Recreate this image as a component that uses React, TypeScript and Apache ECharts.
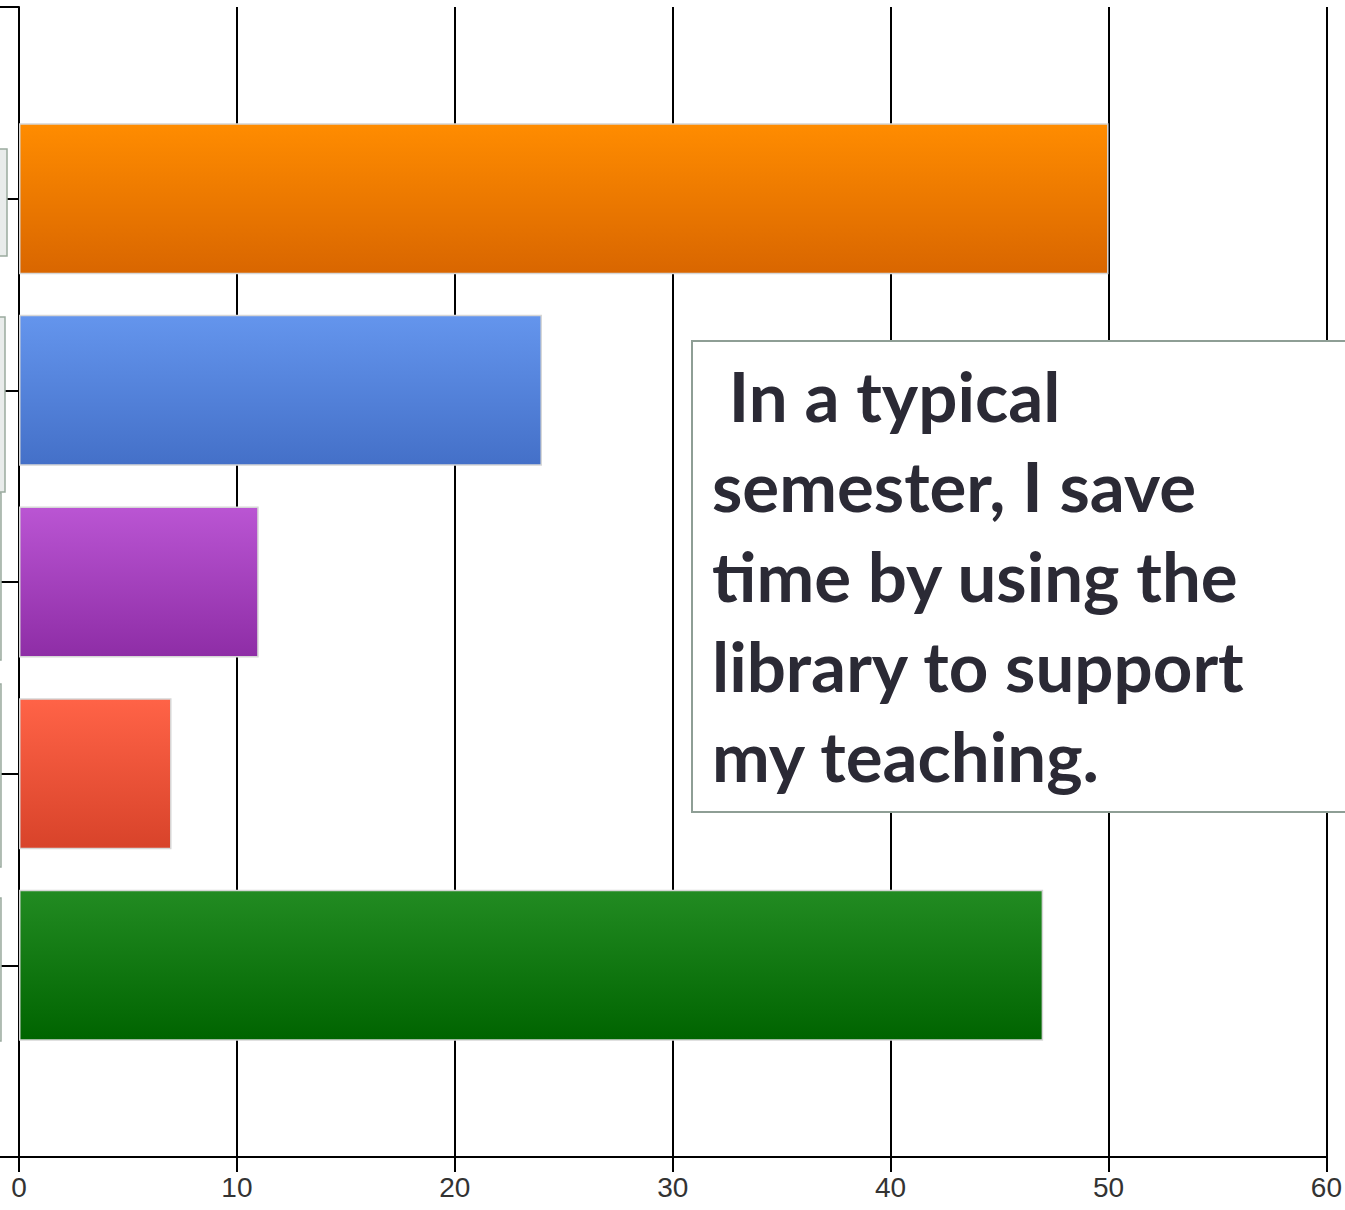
import React, { useEffect, useRef } from "react";
import * as echarts from "echarts";

// Category slots (first and last are empty padding slots on the axis)
const categories: string[] = ["", "Response A", "Response B", "Response C", "Response D", "Response E", ""];
const values: (number | null)[] = [null, 50, 24, 11, 7, 47, null];
const topColors: string[] = ["", "#FF8C00", "#6495ED", "#BA55D3", "#FF6347", "#228B22", ""];
const bottomColors: string[] = ["", "#D96600", "#4470C8", "#8E2DA6", "#D8432A", "#006400", ""];
const xTicks: number[] = [0, 10, 20, 30, 40, 50, 60];
const boxText = " In a typical\nsemester, I save\ntime by using the\nlibrary to support\nmy teaching.";

export default function App() {
  const ref = useRef<HTMLDivElement>(null);
  useEffect(() => {
    if (!ref.current) return;
    const chart = echarts.init(ref.current, undefined, { renderer: "svg" });
    const data = values.map((v, i) =>
      v == null
        ? null
        : {
            value: v,
            itemStyle: {
              color: new echarts.graphic.LinearGradient(0, 0, 0, 1, [
                { offset: 0, color: topColors[i] },
                { offset: 1, color: bottomColors[i] },
              ]),
              borderColor: "#d6d6d6",
              borderWidth: 1.5,
            },
          }
    );
    const leftBoxes = [
      [149, 256, 7],
      [317, 492, 5],
      [493, 660, 1],
      [684, 867, 1],
      [898, 1041, 1],
    ];
    chart.setOption({
      animation: false,
      backgroundColor: "#ffffff",
      grid: { left: 19, right: 14, top: 7, bottom: 53, containLabel: false },
      xAxis: {
        type: "value",
        min: xTicks[0],
        max: xTicks[xTicks.length - 1],
        interval: 10,
        axisLine: { show: true, lineStyle: { color: "#000", width: 2 } },
        axisTick: { show: true, length: 15, lineStyle: { color: "#000", width: 2 } },
        axisLabel: {
          fontFamily: "Liberation Sans, Arial, sans-serif",
          fontSize: 28,
          color: "#333333",
          margin: 16,
        },
        splitLine: { show: true, lineStyle: { color: "#000", width: 2 } },
      },
      yAxis: {
        type: "category",
        data: categories,
        inverse: true,
        boundaryGap: false,
        axisLine: { show: true, lineStyle: { color: "#000", width: 2 } },
        axisTick: { show: true, interval: 0, length: 19, lineStyle: { color: "#000", width: 2 } },
        axisLabel: { show: false },
        splitLine: { show: false },
      },
      series: [
        {
          type: "bar",
          data,
          barWidth: 151,
          z: 3,
        },
      ],
      graphic: [
        ...leftBoxes.map(([y0, y1, r]) => ({
          type: "rect",
          z: 50,
          shape: { x: r - 80, y: y0, width: 80, height: y1 - y0 },
          style: { fill: "#e9eceb", stroke: "#9aab9f", lineWidth: 1.5 },
        })),
        {
          type: "rect",
          z: 100,
          shape: { x: 692, y: 341, width: 700, height: 471 },
          style: { fill: "#ffffff", stroke: "#8e9e95", lineWidth: 2 },
        },
        {
          type: "text",
          z: 101,
          x: 712,
          y: 350,
          style: {
            text: boxText,
            fill: "#2b2a35",
            font: "bold 69px Lato, 'Open Sans', sans-serif",
            lineHeight: 90,
            textVerticalAlign: "top",
          },
        },
      ],
    });
    return () => chart.dispose();
  }, []);
  return (
    <div
      ref={ref}
      style={{ position: "absolute", left: 0, top: 0, width: 1345, height: 1210 }}
    />
  );
}
